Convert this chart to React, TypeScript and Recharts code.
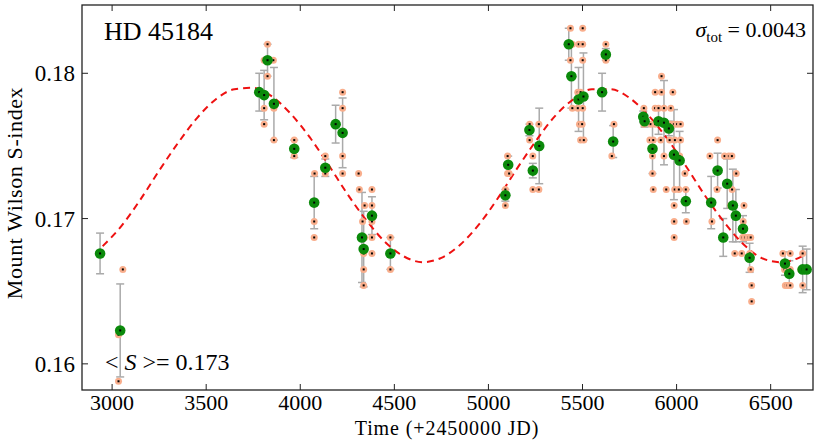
import React from "react";
import { ComposedChart, Scatter, Line, XAxis, YAxis, ErrorBar } from "recharts";

// binned means (green) with their scatter
const binTime = [2936, 3043, 3782, 3808, 3826, 3860, 3968, 4074, 4133, 4188, 4225, 4328, 4337, 4381, 4479, 5090, 5105, 5218, 5236, 5270, 5427, 5441, 5479, 5505, 5604, 5624, 5663, 5823, 5830, 5872, 5904, 5933, 5959, 5986, 6016, 6049, 6184, 6218, 6248, 6269, 6299, 6315, 6353, 6388, 6576, 6599, 6670, 6691];
const binS = [0.1676, 0.1623, 0.1787, 0.1785, 0.1809, 0.1779, 0.1748, 0.1711, 0.1735, 0.1765, 0.1759, 0.1687, 0.1679, 0.1702, 0.1676, 0.1716, 0.1737, 0.1761, 0.1733, 0.175, 0.182, 0.1798, 0.1782, 0.1784, 0.1787, 0.1813, 0.1753, 0.177, 0.1767, 0.1748, 0.1767, 0.1766, 0.1762, 0.1744, 0.174, 0.1712, 0.1711, 0.1733, 0.1687, 0.1724, 0.1709, 0.1702, 0.1693, 0.1673, 0.1669, 0.1662, 0.1665, 0.1665];
const binErr = [0.0014, 0.0032, 0.0013, 0.0017, 0.0011, 0.0025, 0.0006, 0.0018, 0.0006, 0.0013, 0.0024, 0.0031, 0.0026, 0.0013, 0.0011, 0.0004, 0.0006, 0.0004, 0.0005, 0.0026, 0.0011, 0.0022, 0.0022, 0.003, 0.0013, 0.0004, 0.0011, 0.0004, 0.0004, 0.0017, 0.0009, 0.0029, 0.0005, 0.0031, 0.002, 0.0008, 0.0018, 0.0012, 0.0013, 0.0017, 0.0025, 0.0018, 0.0009, 0.001, 0.0008, 0.0009, 0.0016, 0.0014];

// individual measurements (orange)
const ptTime = [3034, 3034, 3057, 3782, 3808, 3826, 3826, 3857, 3808, 3808, 3860, 3860, 3968, 3968, 4076, 4074, 4074, 4133, 4133, 4188, 4225, 4225, 4225, 4225, 4310, 4314, 4342, 4331, 4331, 4342, 4337, 4337, 4337, 4381, 4381, 4381, 4381, 4381, 4479, 4479, 5090, 5090, 5102, 5102, 5110, 5219, 5219, 5236, 5236, 5268, 5268, 5436, 5427, 5446, 5436, 5480, 5501, 5501, 5501, 5475, 5490, 5446, 5475, 5501, 5484, 5498, 5490, 5507, 5624, 5624, 5667, 5656, 5826, 5826, 5920, 5886, 5920, 5980, 5886, 5904, 5933, 5969, 5862, 5886, 5968, 5986, 6003, 6021, 5858, 5876, 5916, 5963, 5991, 6021, 5872, 5933, 6016, 5872, 6044, 5876, 5945, 5990, 6012, 6049, 5987, 5987, 6052, 5987, 6177, 6218, 6215, 6188, 6255, 6278, 6294, 6317, 6295, 6287, 6358, 6354, 6351, 6365, 6380, 6394, 6309, 6346, 6389, 6394, 6399, 6399, 6565, 6604, 6574, 6590, 6604, 6578, 6590, 6604, 6670, 6670, 6660, 6691];
const ptS = [0.162, 0.1588, 0.1665, 0.1787, 0.1809, 0.182, 0.1798, 0.1809, 0.1776, 0.1765, 0.1776, 0.1754, 0.1754, 0.1743, 0.1731, 0.1698, 0.1687, 0.1743, 0.1731, 0.1765, 0.1787, 0.1776, 0.1743, 0.1731, 0.1731, 0.172, 0.1709, 0.1698, 0.1687, 0.1687, 0.1676, 0.1665, 0.1654, 0.172, 0.1709, 0.1698, 0.1687, 0.1676, 0.1687, 0.1665, 0.172, 0.1709, 0.1743, 0.1731, 0.1731, 0.1765, 0.1754, 0.1743, 0.172, 0.1765, 0.172, 0.1831, 0.182, 0.182, 0.1809, 0.182, 0.182, 0.1831, 0.1809, 0.1787, 0.1787, 0.1776, 0.1776, 0.1776, 0.1765, 0.1765, 0.1754, 0.1754, 0.182, 0.1809, 0.1765, 0.1743, 0.1776, 0.1765, 0.1798, 0.1787, 0.1787, 0.1787, 0.1776, 0.1776, 0.1776, 0.1776, 0.1765, 0.1765, 0.1765, 0.1765, 0.1765, 0.1765, 0.1754, 0.1754, 0.1754, 0.1754, 0.1754, 0.1754, 0.1743, 0.1743, 0.1743, 0.1731, 0.1731, 0.172, 0.172, 0.172, 0.172, 0.172, 0.1709, 0.1698, 0.1698, 0.1687, 0.1743, 0.1754, 0.172, 0.1698, 0.1743, 0.1743, 0.1743, 0.1731, 0.172, 0.1709, 0.1709, 0.1698, 0.1687, 0.1687, 0.1687, 0.1687, 0.1676, 0.1676, 0.1676, 0.1665, 0.1654, 0.1643, 0.1676, 0.1676, 0.1665, 0.1665, 0.1665, 0.1654, 0.1654, 0.1654, 0.1676, 0.1654, 0.1665, 0.1665];

// fitted cycle (red dashed)
const fitTime = [2950, 3050, 3150, 3250, 3350, 3450, 3550, 3650, 3750, 3850, 3950, 4050, 4150, 4250, 4350, 4450, 4550, 4650, 4750, 4850, 4950, 5050, 5150, 5250, 5350, 5450, 5550, 5650, 5750, 5850, 5950, 6050, 6150, 6250, 6350, 6450, 6550, 6650, 6680];
const fitS = [0.1681, 0.1695, 0.1713, 0.1733, 0.1752, 0.1769, 0.1782, 0.1789, 0.179, 0.1784, 0.1772, 0.1756, 0.1737, 0.1717, 0.1699, 0.1684, 0.1674, 0.167, 0.1673, 0.1682, 0.1696, 0.1714, 0.1734, 0.1753, 0.177, 0.1782, 0.1789, 0.1789, 0.1783, 0.1771, 0.1755, 0.1736, 0.1716, 0.1698, 0.1683, 0.1673, 0.167, 0.1673, 0.1675];

const xTicks = [3000, 3500, 4000, 4500, 5000, 5500, 6000, 6500];
const yTicks = [0.16, 0.17, 0.18];

const bins = binTime.map((t, i) => ({ t, s: binS[i], err: binErr[i] }));
const points = ptTime.map((t, i) => ({ t, s: ptS[i] }));
const fit = fitTime.map((t, i) => ({ t, s: fitS[i] }));

const W = 830;
const H = 446;
const PL = 82;
const PR = 813;
const PT = 5;
const PB = 390;
const FONT = "'Liberation Serif', 'DejaVu Serif', serif";

const XTick = (props: any) => {
  const { x, payload } = props;
  return (
    <g>
      <line x1={x} x2={x} y1={PB} y2={PB - 6} stroke="#222" />
      <line x1={x} x2={x} y1={PT} y2={PT + 6} stroke="#222" />
      <text x={x} y={PB + 20} textAnchor="middle" fontFamily={FONT} fontSize={22} fill="#000">
        {payload.value}
      </text>
    </g>
  );
};

const YTick = (props: any) => {
  const { y, payload } = props;
  return (
    <g>
      <line x1={PL} x2={PL + 6} y1={y} y2={y} stroke="#222" />
      <line x1={PR} x2={PR - 6} y1={y} y2={y} stroke="#222" />
      <text x={PL - 7} y={y + 8} textAnchor="end" fontFamily={FONT} fontSize={23} fill="#000">
        {payload.value.toFixed(2)}
      </text>
    </g>
  );
};

const Measure = (props: any) => {
  const { cx, cy } = props;
  return (
    <g>
      <circle cx={cx} cy={cy} r={3.5} fill="#f9ae8c" />
      <rect x={cx - 1} y={cy - 1} width={2} height={2} fill="#000" />
    </g>
  );
};

const Binned = (props: any) => {
  const { cx, cy } = props;
  return (
    <g>
      <circle cx={cx} cy={cy} r={5.3} fill="#0b8a0b" />
      <rect x={cx - 1} y={cy - 1} width={2} height={2} fill="#000" />
    </g>
  );
};

export default function App() {
  return (
    <div style={{ position: "absolute", left: 0, top: 0, width: W, height: H, background: "#fff" }}>
      <ComposedChart
        width={W}
        height={H}
        margin={{ top: PT, right: W - PR, bottom: 26, left: 22 }}
      >
        <XAxis
          dataKey="t"
          type="number"
          domain={[2840, 6725]}
          allowDataOverflow
          ticks={xTicks}
          tick={<XTick />}
          tickLine={false}
          axisLine={false}
          height={30}
        />
        <YAxis
          type="number"
          domain={[0.1582, 0.1847]}
          allowDataOverflow
          ticks={yTicks}
          tick={<YTick />}
          tickLine={false}
          axisLine={false}
          width={60}
        />
        <Scatter data={points} dataKey="s" shape={<Measure />} isAnimationActive={false} />
        <Scatter data={bins} dataKey="s" shape={<Binned />} isAnimationActive={false}>
          <ErrorBar dataKey="err" direction="y" width={4} stroke="#aaaaaa" strokeWidth={1.5} />
        </Scatter>
        <Line
          data={fit}
          dataKey="s"
          type="monotone"
          stroke="#ee1111"
          strokeWidth={2}
          strokeDasharray="7 5"
          dot={false}
          activeDot={false}
          isAnimationActive={false}
        />
      </ComposedChart>
      <svg
        width={W}
        height={H}
        style={{ position: "absolute", left: 0, top: 0, pointerEvents: "none" }}
        fontFamily={FONT}
      >
        <rect x={PL} y={PT} width={PR - PL} height={PB - PT} fill="none" stroke="#222" strokeWidth={1.3} />
        <text x={104} y={40} fontSize={26}>HD 45184</text>
        <text x={806} y={37} fontSize={22} textAnchor="end">
          <tspan fontStyle="italic">σ</tspan>
          <tspan fontSize={15} dy={5}>tot</tspan>
          <tspan dy={-5}> = 0.0043</tspan>
        </text>
        <text x={105} y={370} fontSize={24}>
          {"< "}
          <tspan fontStyle="italic">S</tspan>
          {" >= 0.173"}
        </text>
        <text x={447} y={435} fontSize={20} letterSpacing={0.9} textAnchor="middle">
          Time (+2450000 JD)
        </text>
        <text x={22} y={193} fontSize={22} letterSpacing={0.6} textAnchor="middle" transform="rotate(-90 22 193)">
          Mount Wilson S-index
        </text>
      </svg>
    </div>
  );
}
